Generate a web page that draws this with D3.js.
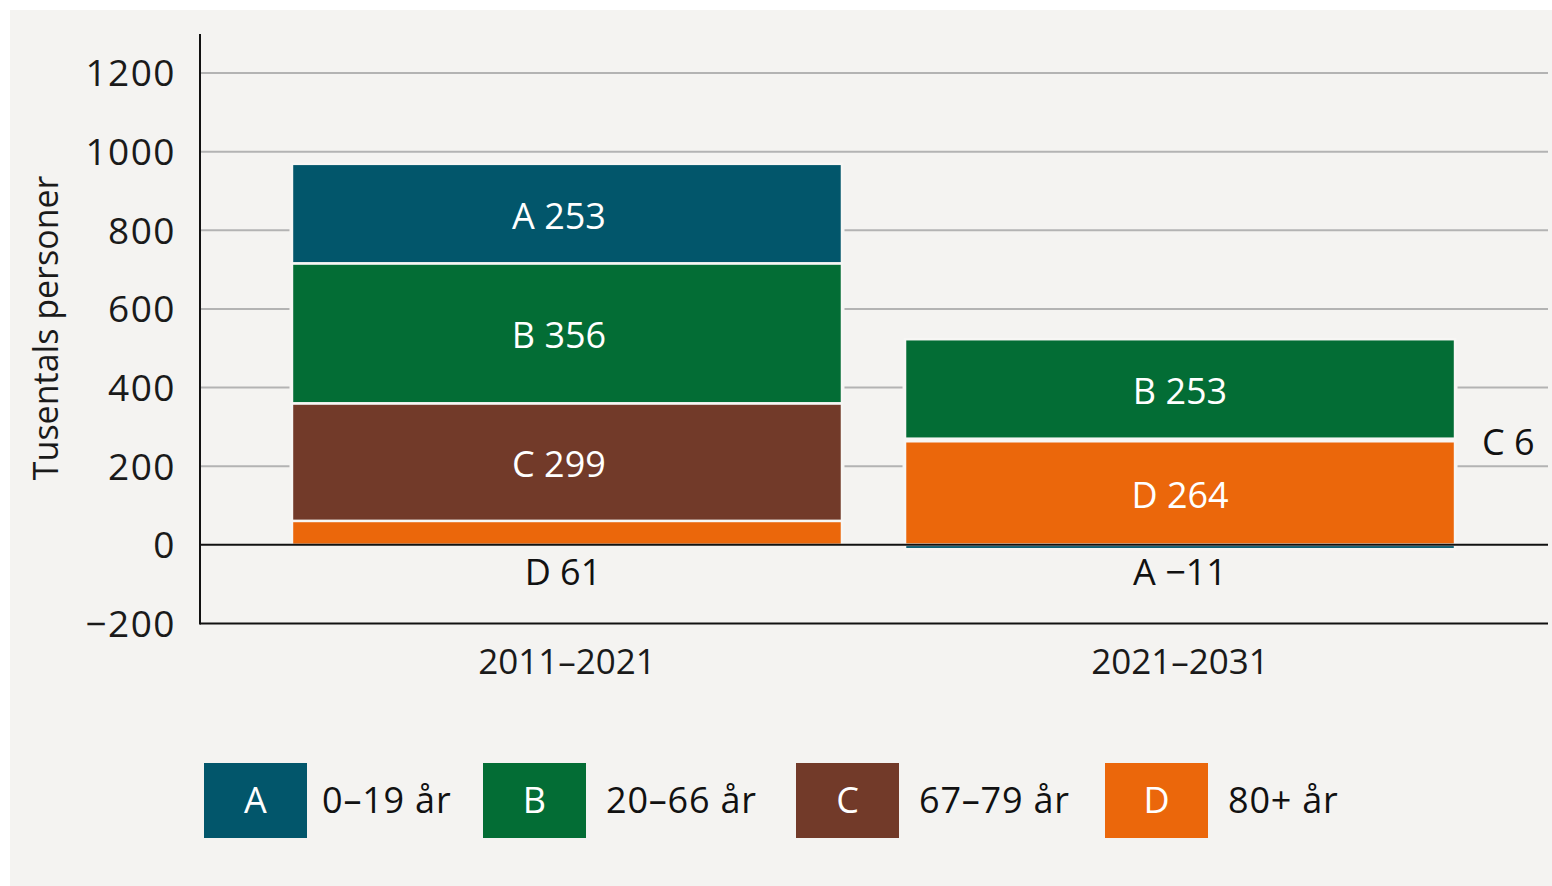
<!DOCTYPE html>
<html><head><meta charset="utf-8">
<script src="https://cdn.jsdelivr.net/npm/d3@7"></script>
<style>
html,body{margin:0;padding:0;background:#fff;}
svg{display:block;font-family:"Open Sans",sans-serif;}
</style></head>
<body>
<svg id="chart" width="1552" height="886"></svg>
<script>
// ---- data ----
const periods = ["2011–2021", "2021–2031"];
const groups = ["A", "B", "C", "D"];
const groupLabels = ["0–19 år", "20–66 år", "67–79 år", "80+ år"];
const valuesA = [253, -11];
const valuesB = [356, 253];
const valuesC = [299, 6];
const valuesD = [61, 264];
const yTicks = [-200, 0, 200, 400, 600, 800, 1000, 1200];
const yTitle = "Tusentals personer";
const colors = {A: "#02566b", B: "#036d35", C: "#723a29", D: "#eb670b"};

const seriesValues = {A: valuesA, B: valuesB, C: valuesC, D: valuesD};
const stackOrder = ["D", "C", "B", "A"]; // bottom to top

const svg = d3.select("#chart");
const fmt = v => (v < 0 ? "\u2212" + Math.abs(v) : String(v));

// background panel
svg.append("rect").attr("x", 10).attr("y", 10).attr("width", 1542).attr("height", 876).attr("fill", "#f4f3f1");

const y = d3.scaleLinear().domain([-200, 1200]).range([623.5, 73]);
const x = d3.scaleBand().domain(periods).range([200, 1547]).paddingInner(0.1028).paddingOuter(0.15);

// gridlines
svg.append("g").selectAll("line").data(yTicks.filter(t => t !== 0 && t !== -200)).join("line")
  .attr("x1", 200).attr("x2", 1548)
  .attr("y1", d => y(d)).attr("y2", d => y(d))
  .attr("stroke", "#b3b3b3").attr("stroke-width", 2);

// tick labels
svg.append("g").selectAll("text").data(yTicks).join("text")
  .attr("x", 176).attr("y", d => y(d))
  .attr("dy", "0.36em").attr("text-anchor", "end")
  .attr("font-size", 37).attr("letter-spacing", 1.5).attr("fill", "#1a1a1a")
  .text(d => fmt(d));

// y title
svg.append("text")
  .attr("transform", `translate(58,${y(0) - 217}) rotate(-90)`)
  .attr("text-anchor", "middle").attr("font-size", 34).attr("fill", "#1a1a1a")
  .text(yTitle);

// build segments
const segs = [];
periods.forEach((p, i) => {
  let pos = 0, neg = 0;
  stackOrder.forEach(g => {
    const v = seriesValues[g][i];
    let y0, y1;
    if (v >= 0) { y0 = pos; y1 = pos + v; pos = y1; }
    else { y0 = neg + v; y1 = neg; neg = y0; }
    segs.push({period: p, idx: i, group: g, value: v, y0, y1, isBottom: v >= 0 && y0 === 0});
  });
});

const gBars = svg.append("g");
// background padding behind bars to cut gridlines
periods.forEach((p, i) => {
  const tops = segs.filter(s => s.idx === i);
  const hi = d3.max(tops, s => s.y1), lo = d3.min(tops, s => s.y0);
  gBars.append("rect")
    .attr("x", x(p) - 2.5).attr("width", x.bandwidth() + 5)
    .attr("y", y(hi) - 2).attr("height", y(lo) - y(hi) + 4)
    .attr("fill", "#f4f3f1");
});
gBars.selectAll("rect.seg").data(segs).join("rect").attr("class", "seg")
  .attr("x", d => x(d.period)).attr("width", x.bandwidth())
  .attr("y", d => y(d.y1)).attr("height", d => Math.max(0, y(d.y0) - y(d.y1)))
  .attr("fill", d => colors[d.group])
  .attr("stroke", "#f7f6f4").attr("stroke-width", 2.5);

// axes lines
svg.append("line").attr("x1", 200).attr("x2", 1548).attr("y1", y(0)).attr("y2", y(0)).attr("stroke", "#111").attr("stroke-width", 2);
svg.append("line").attr("x1", 200).attr("x2", 1548).attr("y1", y(-200)).attr("y2", y(-200)).attr("stroke", "#111").attr("stroke-width", 2);
svg.append("line").attr("x1", 200).attr("x2", 200).attr("y1", 34).attr("y2", y(-200) + 1).attr("stroke", "#111").attr("stroke-width", 2);

// segment labels
const gLab = svg.append("g").attr("font-size", 36);
segs.forEach(s => {
  const h = y(s.y0) - y(s.y1);
  const cx = x(s.period) + x.bandwidth() / 2 - (s.idx === 0 ? 8 : 0);
  const txt = s.group + " " + fmt(s.value);
  if (h > 50) {
    gLab.append("text").attr("x", cx).attr("y", (y(s.y0) + y(s.y1)) / 2 + 2).attr("dy", "0.36em")
      .attr("text-anchor", "middle").attr("fill", "#fff").text(txt);
  } else if (s.value < 0 || s.isBottom) {
    gLab.append("text").attr("x", cx + (s.idx === 0 ? 4 : 0)).attr("y", y(0) + 27).attr("dy", "0.36em")
      .attr("text-anchor", "middle").attr("fill", "#111").text(txt);
  } else {
    gLab.append("text").attr("x", x(s.period) + x.bandwidth() + 27).attr("y", (y(s.y0) + y(s.y1)) / 2 + 2).attr("dy", "0.36em")
      .attr("text-anchor", "start").attr("fill", "#111").text(txt);
  }
});

// category labels
svg.append("g").selectAll("text").data(periods).join("text")
  .attr("x", d => x(d) + x.bandwidth() / 2).attr("y", 661).attr("dy", "0.36em")
  .attr("text-anchor", "middle").attr("font-size", 35).attr("fill", "#1a1a1a")
  .text(d => d);

// legend
const legX = [204, 483, 796, 1105];
const leg = svg.append("g");
groups.forEach((g, i) => {
  leg.append("rect").attr("x", legX[i]).attr("y", 763).attr("width", 103).attr("height", 75).attr("fill", colors[g]);
  leg.append("text").attr("x", legX[i] + 51.5).attr("y", 800).attr("dy", "0.36em")
    .attr("text-anchor", "middle").attr("font-size", 36).attr("fill", "#fff").text(g);
  leg.append("text").attr("x", legX[i] + 118 + (i === 0 ? 0 : 5)).attr("y", 800).attr("dy", "0.36em")
    .attr("font-size", 36).attr("letter-spacing", 0.8).attr("fill", "#111").text(groupLabels[i]);
});
</script>
</body></html>
